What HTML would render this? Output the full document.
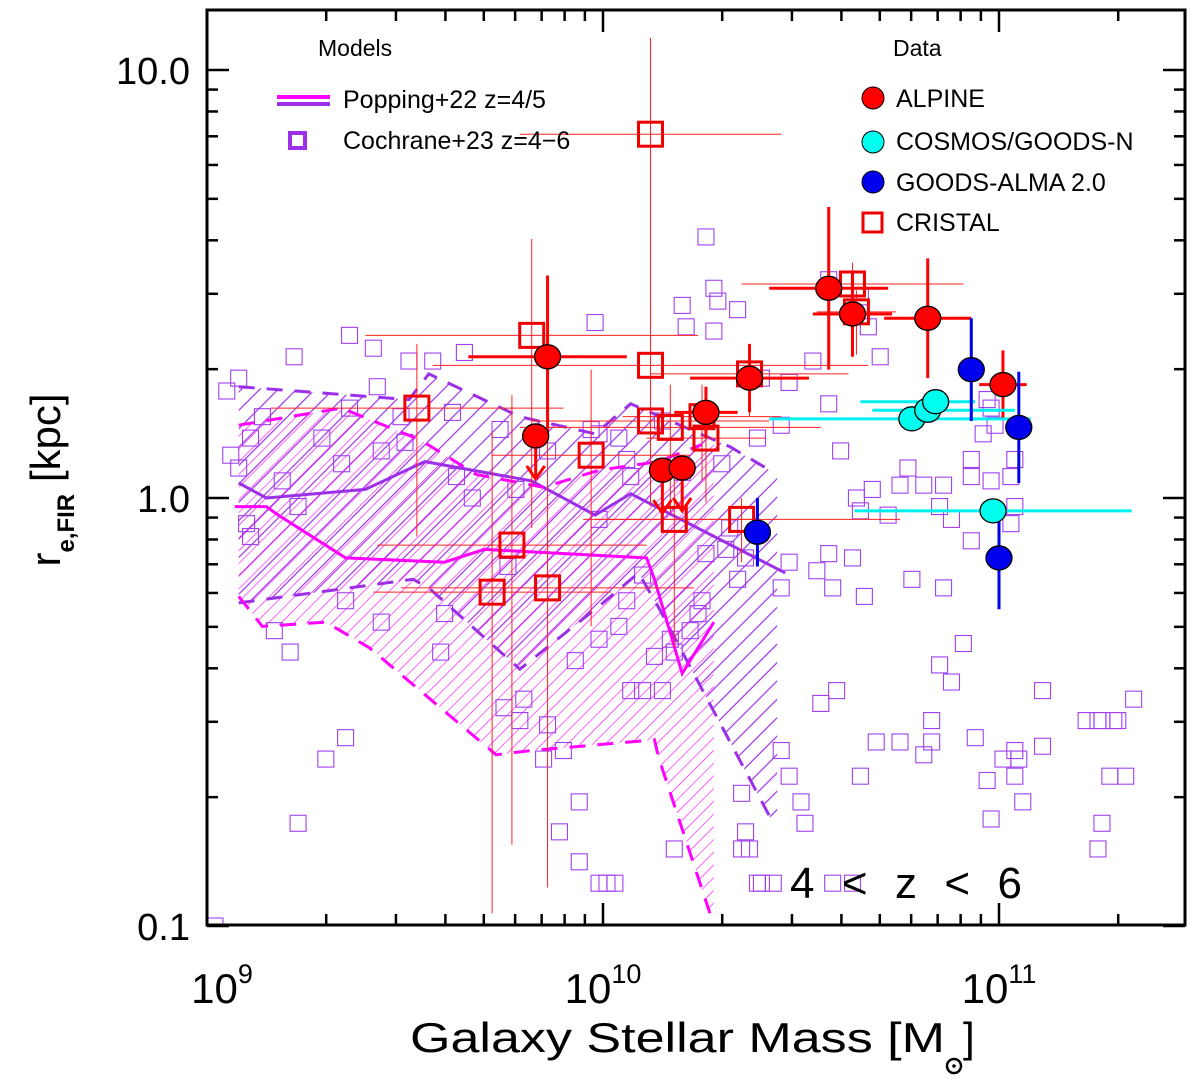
<!DOCTYPE html>
<html><head><meta charset="utf-8"><style>
html,body{margin:0;padding:0;background:#fff;}
svg{display:block;font-family:"Liberation Sans",sans-serif;}
</style></head><body>
<svg id="chart" width="1200" height="1087" viewBox="0 0 1200 1087" xmlns="http://www.w3.org/2000/svg">
<defs>
<pattern id="hatchM" patternUnits="userSpaceOnUse" width="9" height="9" patternTransform="rotate(45)"><line x1="0" y1="0" x2="0" y2="9" stroke="#ff00ff" stroke-width="1.2"/></pattern>
<pattern id="hatchP" patternUnits="userSpaceOnUse" width="13" height="13" patternTransform="rotate(45)"><line x1="4" y1="0" x2="4" y2="13" stroke="#9b30e8" stroke-width="1.2"/></pattern>
<clipPath id="plotclip"><rect x="207" y="10" width="978" height="915"/></clipPath>
</defs>
<g id="plot" clip-path="url(#plotclip)"></g>
<g id="axes"></g>
<g id="legend"></g>
</svg>
<script>
// ---- data (log10 stellar mass, log10 radius in kpc) ----
const popSolidM = [9.07,9.15,9.18,9.35,9.60,9.70,10.11,10.13,10.20,10.28];
const popSolidR = [-0.02,-0.02,-0.04,-0.14,-0.15,-0.12,-0.14,-0.19,-0.41,-0.29];
const popUpM = [9.08,9.34,9.54,9.68,9.85,9.99,10.14,10.25];
const popUpR = [0.17,0.21,0.135,0.055,0.025,0.065,0.085,0.125];
const popLoM = [9.08,9.14,9.30,9.41,9.73,9.82,10.13,10.14,10.27];
const popLoR = [-0.23,-0.30,-0.29,-0.35,-0.60,-0.59,-0.565,-0.605,-0.97];
const pop5SolidM = [9.08,9.15,9.40,9.55,9.82,9.98,10.07,10.46];
const pop5SolidR = [0.035,0,0.02,0.085,0.04,-0.04,0.01,-0.175];
const pop5UpM = [9.08,9.51,9.56,9.79,9.98,10.07,10.32,10.43];
const pop5UpR = [0.26,0.23,0.29,0.19,0.15,0.22,0.12,0.06];
const pop5LoM = [9.08,9.52,9.56,9.79,10.0,10.09,10.14,10.43];
const pop5LoR = [-0.245,-0.19,-0.21,-0.40,-0.245,-0.175,-0.255,-0.76];
const hatchEdgeM = 10.44;

const cochM = [10.26,10.28,10.29,10.20,10.21,10.28,10.34,10.57,10.65,10.67,10.57,10.70,10.47,10.40,10.53,9.98,9.65,9.57,9.43,9.42,9.22,9.36,9.51,9.62,9.49,9.29,9.05,9.08,9.36,9.34,9.44,9.50,9.63,9.67,9.78,9.86,9.99,10.06,10.07,10.20,10.30,10.39,10.45,10.60,10.64,10.72,10.75,10.81,10.86,10.77,10.85,10.88,10.93,10.93,10.96,10.97,10.98,10.99,10.93,11.03,11.04,10.57,10.63,10.58,10.65,10.68,10.85,10.88,10.83,10.91,10.94,10.86,10.81,10.66,10.78,10.54,10.45,10.47,11.11,11.25,11.29,11.04,11.04,11.11,10.69,10.75,10.83,10.59,10.55,10.45,10.47,10.50,10.51,10.65,10.35,10.36,10.63,10.40,10.58,10.32,10.31,10.36,10.34,10.26,10.25,10.24,10.22,10.18,10.17,10.13,10.06,10.04,10.15,10.10,9.90,9.85,9.79,9.86,9.80,9.60,9.59,9.44,9.35,9.21,9.17,9.10,9.08,9.11,9.06,9.94,9.89,9.94,10.18,9.99,10.37,10.97,10.98,11.26,11.34,11.25,11.32,11.03,11.04,10.98,9.02,9.93,10.07,9.75,9.35,9.30,9.23,10.35,11.01,11.05,11.06,9.99,10.10,9.97,9.76,9.99,10.15,10.04,9.74,9.19,9.23,9.11,9.14,11.22,11.26,11.30,11.28,10.39,10.43,10.01,10.03];
const cochR = [0.61,0.49,0.46,0.45,0.40,0.39,0.44,0.51,0.47,0.40,0.22,0.33,0.27,0.28,0.32,0.41,0.34,0.32,0.26,0.35,0.33,0.38,0.32,0.20,0.19,0.14,0.25,0.28,0.21,0.08,0.11,0.13,0.05,0.0,0.02,0.11,0.15,0.09,0.05,0.06,0.08,0.14,0.17,0.11,0.0,-0.04,0.03,0.03,0.03,0.07,-0.02,-0.05,0.09,0.05,0.15,0.23,0.21,0.17,-0.10,0.05,0.09,-0.13,-0.14,-0.21,-0.03,0.02,-0.39,-0.43,-0.52,-0.34,-0.56,-0.21,-0.60,-0.23,-0.19,-0.17,-0.21,-0.15,-0.45,-0.52,-0.52,-0.59,-0.65,-0.58,-0.57,-0.57,-0.57,-0.45,-0.48,-0.59,-0.65,-0.71,-0.76,-0.65,-0.69,-0.78,-0.90,-0.90,-0.90,-0.07,-0.12,-0.14,-0.19,-0.13,-0.24,-0.27,-0.31,-0.36,-0.33,-0.37,-0.24,-0.30,-0.45,-0.45,-0.59,-0.61,-0.52,-0.53,-0.47,-0.27,-0.36,-0.29,-0.24,-0.36,-0.31,-0.06,0.07,0.14,0.10,-0.71,-0.78,-0.85,-0.82,-0.90,-0.82,-0.66,-0.75,-0.76,-0.47,-0.82,-0.65,-0.06,-0.02,0.04,-1.0,-0.38,-0.45,-0.49,-0.56,-0.61,-0.76,-0.82,-0.61,-0.61,-0.71,-0.05,-0.18,0.16,-0.16,-0.33,0.18,0.14,0.16,0.04,-0.02,-0.09,0.19,-0.52,-0.52,-0.52,-0.65,-0.90,-0.90,-0.90,-0.90];

const cristalM = [10.12,9.82,10.12,9.53,9.97,10.12,10.17,10.25,10.26,10.37,10.18,10.35,9.77,9.72,9.86,10.63,10.64];
const cristalR = [0.85,0.38,0.31,0.21,0.10,0.18,0.165,0.19,0.14,0.29,-0.05,-0.05,-0.11,-0.22,-0.21,0.50,0.435];
const cristalXe = [0.33,0.42,0.55,0.37,0.25,0.3,0.38,0.2,0.15,0.25,0.2,0.4,0.34,0.3,0.37,0.28,0.1];
const cristalYe = [0.45,0.45,0.3,0.3,0.4,0.2,0.2,0.15,0.15,0.1,0.3,0.1,0.7,0.75,0.7,0.1,0.1];

const alpM = [9.86,9.83,10.15,10.20,10.26,10.37,10.57,10.63,10.82,11.01];
const alpR = [0.33,0.145,0.065,0.07,0.20,0.28,0.49,0.43,0.42,0.265];
const alpXe = [0.2,0,0,0,0.08,0.15,0.15,0.1,0.11,0.06];
const alpYe = [0.19,0,0,0,0.06,0.08,0.19,0.1,0.14,0.08];
const alpLimit = [false,true,true,true,false,false,false,false,false,false];

const cosM = [10.78,10.82,10.84,10.985];
const cosR = [0.185,0.205,0.225,-0.03];
const cosXlo = [0.36,0.14,0.19,0.35];
const cosXhi = [0.30,0.22,0.10,0.35];

const gaM = [10.93,11.05,10.39,11.00];
const gaR = [0.30,0.165,-0.08,-0.14];
const gaYe = [0.12,0.13,0.08,0.12];

// ---- axes functions ----
const X0=207, X1=1185, Y0=10, Y1=925;
function X(lm){return 207+(lm-9)*396;}
function Y(lr){return 498-lr*428;}
const NS="http://www.w3.org/2000/svg";
function mk(parent,tag,attrs){const e=document.createElementNS(NS,tag);for(const k in attrs)e.setAttribute(k,attrs[k]);parent.appendChild(e);return e;}
const plot=document.getElementById('plot'), axes=document.getElementById('axes'), legend=document.getElementById('legend');
function pts(ms,rs){return ms.map((m,i)=>X(m).toFixed(1)+','+Y(rs[i]).toFixed(1)).join(' ');}

let e;
e=mk(plot,'polygon',{points:pts(pop5UpM.concat([hatchEdgeM,hatchEdgeM],pop5LoM.slice().reverse()),pop5UpR.concat([0.06,-0.76],pop5LoR.slice().reverse())),fill:'url(#hatchP)',stroke:'none'});


e=mk(plot,'polygon',{points:pts(popUpM.concat([10.28,10.28],popLoM.slice().reverse()),popUpR.concat([0.125,-0.97],popLoR.slice().reverse())),fill:'url(#hatchM)',stroke:'none'});



cochM.forEach((m,i)=>{
  const s=mk(plot,'rect',{x:X(m)-8,y:Y(cochR[i])-8,width:16,height:16,fill:'none',stroke:'#a040f0','stroke-width':1.1});
  
  
});

function line(ms,rs,col,w,dash,name){
  const l=mk(plot,'polyline',{points:pts(ms,rs),fill:'none',stroke:col,'stroke-width':w});
  if(dash)l.setAttribute('stroke-dasharray',dash);
  
  
}
line(pop5SolidM,pop5SolidR,'#9b30e8',3,null,'popping-z5-median');
line(pop5UpM,pop5UpR,'#9b30e8',3,'16,12','popping-z5-upper');
line(pop5LoM,pop5LoR,'#9b30e8',3,'16,12','popping-z5-lower');
line(popSolidM,popSolidR,'#ff00ff',3,null,'popping-z4-median');
line(popUpM,popUpR,'#ff00ff',3,'16,12','popping-z4-upper');
line(popLoM,popLoR,'#ff00ff',3,'16,12','popping-z4-lower');

cristalM.forEach((m,i)=>{
  const x=X(m),y=Y(cristalR[i]);
  let a=mk(plot,'line',{x1:X(m-cristalXe[i]),x2:X(m+cristalXe[i]),y1:y,y2:y,stroke:'#ff2020','stroke-width':1});
  
  
  a=mk(plot,'line',{x1:x,x2:x,y1:Y(cristalR[i]+cristalYe[i]*0.5),y2:Y(cristalR[i]-cristalYe[i]),stroke:'#ff2020','stroke-width':1});
  
  
});
cristalM.forEach((m,i)=>{
  const s=mk(plot,'rect',{x:X(m)-12,y:Y(cristalR[i])-12,width:24,height:24,fill:'none',stroke:'#ee0000','stroke-width':3});
  
  
});

function ebar(x1,y1,x2,y2,col,w,name){const a=mk(plot,'line',{x1:x1,y1:y1,x2:x2,y2:y2,stroke:col,'stroke-width':w});}
alpM.forEach((m,i)=>{
  const x=X(m),y=Y(alpR[i]);
  if(alpLimit[i]){
    ebar(x,y,x,y+42,'#ff0000',3,'alpine-upper-limit');
    mk(plot,'polyline',{points:`${x-9},${y+30} ${x},${y+43} ${x+9},${y+30}`,fill:'none',stroke:'#ff0000','stroke-width':3});
  } else {
    ebar(X(m-alpXe[i]),y,X(m+alpXe[i]),y,'#ff0000',3,'alpine-xerr');
    ebar(x,Y(alpR[i]+alpYe[i]),x,Y(alpR[i]-alpYe[i]),'#ff0000',3,'alpine-yerr');
  }
});
cosM.forEach((m,i)=>{const y=Y(cosR[i]);ebar(X(m-cosXlo[i]),y,X(m+cosXhi[i]),y,'#00f0f0',3,'cosmos-xerr');});
gaM.forEach((m,i)=>{const x=X(m);ebar(x,Y(gaR[i]+gaYe[i]),x,Y(gaR[i]-gaYe[i]),'#0000ee',3,'goods-alma-yerr');});
function dot(x,y,col,name){const c=mk(plot,'ellipse',{cx:x,cy:y,rx:13,ry:12,fill:col,stroke:'#000','stroke-width':1.3});}
alpM.forEach((m,i)=>dot(X(m),Y(alpR[i]),'#ff0000','alpine-point'));
cosM.forEach((m,i)=>dot(X(m),Y(cosR[i]),'#00ffee','cosmos-goodsn-point'));
gaM.forEach((m,i)=>dot(X(m),Y(gaR[i]),'#0000ee','goods-alma-point'));

e=mk(axes,'rect',{x:X0,y:Y0,width:X1-X0,height:Y1-Y0,fill:'none',stroke:'#000','stroke-width':3});


for(let d=9;d<=11;d++){for(let k=1;k<=9;k++){
  const lm=d+Math.log10(k); if(lm>11.46)continue; const x=X(lm); const L=k===1?22:11;
  mk(axes,'line',{x1:x,x2:x,y1:Y1,y2:Y1-L,stroke:'#000','stroke-width':2.5});
  mk(axes,'line',{x1:x,x2:x,y1:Y0,y2:Y0+L,stroke:'#000','stroke-width':2.5});
}}
for(let d=-1;d<=1;d++){for(let k=1;k<=9;k++){
  const lr=d+Math.log10(k); if(lr>1.14)continue; const y=Y(lr); const L=k===1?22:11;
  mk(axes,'line',{x1:X0,x2:X0+L,y1:y,y2:y,stroke:'#000','stroke-width':2.5});
  mk(axes,'line',{x1:X1,x2:X1-L,y1:y,y2:y,stroke:'#000','stroke-width':2.5});
}}
const yTicks=['0.1','1.0','10.0'];
yTicks.forEach((t,i)=>{const tx=mk(axes,'text',{x:190,y:Y(i-1)+14,'text-anchor':'end','font-size':38});tx.textContent=t;});
const xTickExp=['9','10','11'];
xTickExp.forEach((t,i)=>{const tx=mk(axes,'text',{x:X(9+i)-(i===0?-15:0),y:1003,'text-anchor':'middle','font-size':42});tx.innerHTML='10<tspan dy="-20" font-size="27">'+t+'</tspan>';});
</script>
<script>
(function(){
const NS="http://www.w3.org/2000/svg";
const svg=document.getElementById('chart'), lg=document.getElementById('legend');
function t(p,x,y,s,str,name,extra){const e=document.createElementNS(NS,'text');e.setAttribute('x',x);e.setAttribute('y',y);e.setAttribute('font-size',s);if(extra)for(const k in extra)e.setAttribute(k,extra[k]);e.textContent=str;p.appendChild(e);return e;}
function s(p,tag,a,name){const e=document.createElementNS(NS,tag);for(const k in a)e.setAttribute(k,a[k]);p.appendChild(e);return e;}
t(lg,318,56,23,'Models','legend-models-title');
s(lg,'line',{x1:277,x2:330,y1:97,y2:97,stroke:'#ff00ff','stroke-width':4},'legend-popping-line-z4');
s(lg,'line',{x1:277,x2:330,y1:104,y2:104,stroke:'#9b30e8','stroke-width':4},'legend-popping-line-z5');
t(lg,343,108,25,'Popping+22 z=4/5','legend-popping-label');
s(lg,'rect',{x:290,y:133,width:15,height:15,fill:'none',stroke:'#9b30e8','stroke-width':4},'legend-cochrane-marker');
t(lg,343,149,25,'Cochrane+23 z=4\u22126','legend-cochrane-label');
t(lg,893,56,23,'Data','legend-data-title');
s(lg,'circle',{cx:873,cy:98,r:11,fill:'#ff0000',stroke:'#000','stroke-width':1},'legend-alpine-marker');
t(lg,896,107,25,'ALPINE','legend-alpine-label');
s(lg,'circle',{cx:873,cy:142,r:11,fill:'#00ffee',stroke:'#000','stroke-width':1},'legend-cosmos-marker');
t(lg,896,150,25,'COSMOS/GOODS-N','legend-cosmos-label');
s(lg,'circle',{cx:873,cy:182,r:11,fill:'#0000ee',stroke:'#000','stroke-width':1},'legend-goods-alma-marker');
t(lg,896,191,25,'GOODS-ALMA 2.0','legend-goods-alma-label');
s(lg,'rect',{x:863,y:213,width:19,height:19,fill:'none',stroke:'#ee0000','stroke-width':3},'legend-cristal-marker');
t(lg,896,231,25,'CRISTAL','legend-cristal-label');
t(svg,790,898,44,'4 < z < 6','redshift-annotation',{'xml:space':'preserve'}).setAttribute('textLength','232');
const xt=t(svg,410,1052,42,'Galaxy Stellar Mass [M','x-axis-title');
xt.setAttribute('textLength','535');
xt.setAttribute('lengthAdjust','spacingAndGlyphs');
t(svg,963,1052,42,']','x-axis-title-bracket');
s(svg,'circle',{cx:954,cy:1066,r:7,fill:'none',stroke:'#000','stroke-width':2.5},'solar-symbol');
s(svg,'circle',{cx:954,cy:1066,r:1.8,fill:'#000'},'solar-symbol-dot');
const yl=document.createElementNS(NS,'text');
yl.setAttribute('transform','translate(60,480) rotate(-90)');
yl.setAttribute('text-anchor','middle');yl.setAttribute('font-size',42);
yl.innerHTML='r<tspan dy="14" font-size="24" font-weight="bold">e,FIR</tspan><tspan dy="-14"> [kpc]</tspan>';


svg.appendChild(yl);
})();
</script>
</body></html>
